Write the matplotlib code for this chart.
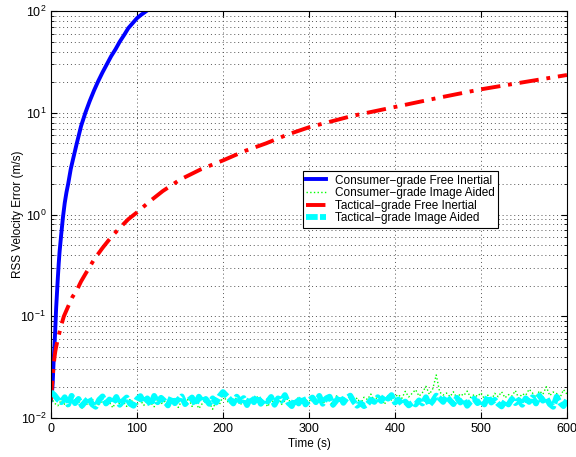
import numpy as np
import matplotlib
matplotlib.use("Agg")
import matplotlib.pyplot as plt
from matplotlib.ticker import LogLocator, MultipleLocator

plt.rcParams['font.family'] = ['Liberation Sans', 'DejaVu Sans']
plt.rcParams['mathtext.fontset'] = 'custom'
plt.rcParams['mathtext.rm'] = 'Liberation Sans'
plt.rcParams['mathtext.it'] = 'Liberation Sans'

# ===== data
# consumer-grade free inertial
t_cons = [0, 1, 2, 3, 4, 5, 6, 7, 8, 9, 10, 12, 14, 16, 18, 20, 23, 26, 30, 35, 40,
          45, 50, 55, 60, 65, 70, 75, 80, 85, 90, 95, 100, 105, 111]
v_cons = [0.015, 0.017, 0.022, 0.035, 0.05, 0.075, 0.12, 0.17, 0.24, 0.33, 0.43, 0.65,
          0.95, 1.3, 1.65, 2.0, 2.8, 3.6, 5.0, 7.4, 10, 13, 16.5, 20.5, 25, 30, 36, 42,
          50, 58, 68, 76, 85, 92, 100]

# tactical-grade free inertial
t_tac = [0, 1, 2, 3, 4, 5, 6, 8, 10, 12, 15, 20, 25, 30, 35, 40, 50, 60, 70, 80, 90,
         100, 115, 130, 150, 175, 200, 225, 250, 275, 300, 350, 400, 450, 500, 550, 600]
v_tac = [0.015, 0.02, 0.026, 0.032, 0.039, 0.045, 0.05, 0.06, 0.07, 0.082, 0.1, 0.125,
         0.155, 0.18, 0.22, 0.26, 0.36, 0.47, 0.6, 0.74, 0.9, 1.05, 1.35, 1.7, 2.2, 2.8,
         3.4, 4.2, 5.0, 6.1, 7.2, 9.3, 11.4, 14, 17, 20, 23.5]

# image aided, sampled every 4 s (values in 1e-3 m/s)
t_aid = list(range(0, 601, 4))
cyan_aid = [18.0, 16.8, 15.2, 14.3, 16.0, 13.6, 16.5, 14.0, 15.4, 13.2, 14.5, 15.8, 13.6,
            12.9, 15.1, 16.3, 13.9, 15.2, 14.1, 16.1, 13.5, 14.8, 15.9, 13.8, 13.2, 15.3,
            16.4, 14.2, 15.6, 13.4, 16.5, 14.3, 15.8, 14.7, 13.3, 16.0, 14.0, 15.2, 16.3,
            13.7, 14.9, 15.9, 13.5, 16.2, 14.5, 15.4, 13.8, 15.6, 14.2, 16.4, 18.0,
            16.6, 15.3, 13.9, 16.2, 14.6, 15.7, 13.4, 16.0, 14.3, 16.4, 13.8, 15.2, 14.5,
            16.1, 13.5, 15.6, 14.8, 16.8, 14.1, 13.1, 15.4, 13.9, 16.2, 13.6, 14.8,
            15.9, 14.3, 16.5, 13.8, 15.6, 16.2, 13.5, 14.9, 16.4, 14.1, 15.7, 16.6, 14.5,
            13.2, 14.0, 13.1, 13.7, 15.1, 14.4, 16.0, 14.7, 16.5, 15.5, 16.8, 14.2,
            15.2, 13.7, 14.5, 13.3, 14.1, 13.6, 14.9, 13.9, 16.0, 13.4, 14.7, 16.6, 15.6,
            14.4, 16.3, 14.9, 13.7, 15.8, 14.2, 15.3, 13.2, 14.5, 15.5, 14.0, 14.9,
            13.6, 16.4, 14.2, 15.1, 13.8, 13.0, 14.6, 13.6, 15.4, 14.0, 15.0, 13.5, 15.6,
            14.4, 16.0, 13.9, 16.6, 14.8, 15.8, 13.7, 12.9, 16.2, 14.1, 13.1, 15.0]
green_aid = [16.0, 14.0, 13.2, 15.0, 13.6, 12.8, 14.6, 13.4, 15.2, 12.5, 14.0, 13.3, 15.5,
             12.9, 13.8, 14.8, 13.1, 14.2, 12.6, 15.1, 13.7, 14.5, 13.0, 15.4, 14.1, 13.5,
             14.9, 13.3, 15.6, 14.2, 12.9, 15.3, 13.8, 14.6, 13.2, 15.0, 14.0, 12.7, 14.8,
             13.5, 15.7, 13.0, 14.4, 12.4, 13.9, 15.2, 14.3, 12.2, 14.7, 13.6, 16.3,
             15.0, 13.8, 14.6, 15.9, 13.4, 14.9, 12.8, 15.4, 14.1, 16.1, 13.5, 14.7, 12.9,
             15.0, 14.2, 16.3, 13.6, 14.8, 15.5, 13.3, 14.4, 16.0, 13.9, 15.1, 14.5,
             15.8, 14.4, 16.2, 13.7, 15.3, 14.9, 12.9, 16.5, 14.6, 15.6, 15.1, 16.7, 14.3,
             15.8, 13.8, 16.0, 15.2, 17.2, 14.7, 16.4, 15.5, 13.6, 16.9, 15.0, 16.2,
             17.0, 15.6, 18.3, 16.1, 17.5, 19.0, 16.4, 17.8, 20.5, 17.1, 19.4, 26.5, 18.0,
             16.8, 17.6, 16.2, 18.1, 15.7, 17.3, 16.6, 18.4, 15.9, 17.0, 16.3, 17.7,
             15.4, 16.8, 14.9, 17.5, 16.2, 18.1, 15.8, 17.0, 16.4, 18.6, 15.6, 17.3, 16.7,
             19.2, 17.6, 16.0, 18.5, 17.1, 20.3, 16.6, 18.0, 17.4, 15.9, 19.0, 17.2]

labels = ["Consumer\u2212grade Free Inertial", "Consumer\u2212grade Image Aided",
          "Tactical\u2212grade Free Inertial", "Tactical\u2212grade Image Aided"]

# =====
fig = plt.figure(figsize=(5.76, 4.57), dpi=100)
ax = fig.add_axes([0.0885, 0.0853, 0.8958, 0.8906])

ax.plot(t_cons, v_cons, '-', color='#0000ff', lw=2.8, label=labels[0])
ax.plot(t_aid, np.array(green_aid) * 1e-3, ':', color='#00ff00', lw=1.0, label=labels[1])
ax.plot(t_tac, v_tac, '-.', color='#ff0000', lw=2.8, dashes=(5, 2, 1, 2), label=labels[2])
ax.plot(t_aid, np.array(cyan_aid) * 1e-3, '--', color='#00ffff', lw=4.2, dashes=(2, 0.4),
        label=labels[3])

ax.set_yscale('log')
ax.set_xlim(0, 600)
ax.set_ylim(1e-2, 1e2)
ax.xaxis.set_major_locator(MultipleLocator(100))
ax.yaxis.set_major_locator(LogLocator(base=10, numticks=10))
ax.yaxis.set_minor_locator(LogLocator(base=10, subs=np.arange(2, 10), numticks=20))

grid_kw = dict(linestyle=(0, (1, 3)), color='#555555', lw=0.7)
ax.grid(True, which='major', **grid_kw)
ax.grid(True, which='minor', axis='y', **grid_kw)
ax.tick_params(which='both', direction='in', top=True, right=True, labelsize=9)
ax.tick_params(which='major', length=4)
ax.tick_params(which='minor', length=2)
for s in ax.spines.values():
    s.set_linewidth(0.8)

ax.set_xlabel("Time (s)", fontsize=8.5, labelpad=2)
ax.set_ylabel("RSS Velocity Error (m/s)", fontsize=8.5)
ax.yaxis.set_label_coords(-0.052, 0.5)

leg = ax.legend(loc='upper left', bbox_to_anchor=(0.488, 0.607), fontsize=8.5,
                fancybox=False, edgecolor='black', framealpha=1, handlelength=1.7,
                borderpad=0.3, labelspacing=0.05, handletextpad=0.7, borderaxespad=0)
leg.get_frame().set_linewidth(0.8)

fig.savefig("out.png", dpi=100)
